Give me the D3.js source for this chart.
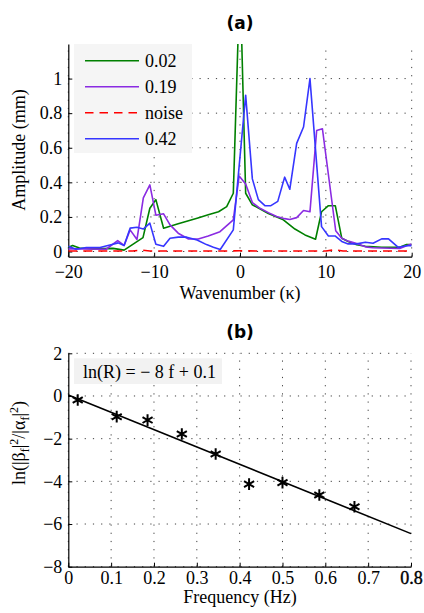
<!DOCTYPE html>
<html><head><meta charset="utf-8">
<script src="https://cdn.jsdelivr.net/npm/d3@7"></script>
<style>
body{margin:0;background:#fff}
</style>
</head><body>
<svg id="c" width="424" height="613"></svg>
<script>
// ---- Panel (a) data ----
const kGreen = [-20,-19.5,-18.7,-17.2,-14.8,-13.5,-11.3,-10.5,-9.8,-8.9,-8.15,-7.2,-6.0,-4.9,-3.7,-2.5,-1.55,-0.78,0,0.66,1.44,3.3,5.05,6.4,7.57,8.8,9.5,10.3,11.1,11.85,12.6,13.6,14.6,16.5,18.6,19.4,20];
const aGreen = [0.023,0.035,0.02,0.015,0.018,0.008,0.08,0.25,0.30,0.135,0.146,0.16,0.178,0.194,0.212,0.23,0.26,0.337,1.6,0.337,0.27,0.22,0.183,0.13,0.096,0.071,0.23,0.265,0.265,0.077,0.058,0.039,0.03,0.025,0.025,0.04,0.04];
const kPurple = [-20,-18,-15.6,-14.25,-13.5,-12.8,-12.0,-11.26,-10.5,-9.8,-8.9,-8.15,-7.2,-6.0,-4.86,-3.7,-2.33,-0.78,-0.1,0.66,1.44,2.33,3.3,4.27,5.2,5.8,6.6,7.4,8.15,8.93,9.6,11.15,11.85,12.6,13.6,14.6,15.5,16.5,18.6,19.4,20];
const aPurple = [0.015,0.015,0.013,0.063,0.035,0.125,0.07,0.31,0.385,0.21,0.218,0.154,0.106,0.072,0.072,0.09,0.115,0.183,0.437,0.39,0.283,0.25,0.225,0.202,0.19,0.185,0.196,0.237,0.23,0.70,0.71,0.12,0.077,0.06,0.046,0.027,0.022,0.02,0.017,0.033,0.044];
const kBlue = [-20,-19.1,-17.9,-16.3,-14.8,-14.2,-13.5,-12.8,-12.0,-11.26,-10.5,-9.8,-8.9,-8.15,-7.2,-6.2,-5.0,-3.9,-3.1,-2.3,-0.78,0.66,1.44,2.14,2.9,3.6,4.4,5.2,5.8,6.6,7.4,8.15,9.5,10.3,11.07,11.85,12.6,13.6,14.6,15.5,16.5,17.3,18.4,19.4,20];
const aBlue = [0.03,0.013,0.023,0.023,0.042,0.05,0.035,0.135,0.14,0.13,0.164,0.042,0.03,0.077,0.083,0.083,0.067,0.04,0.025,0.012,0.125,0.904,0.42,0.30,0.265,0.265,0.29,0.43,0.36,0.625,0.72,1.0,0.144,0.09,0.09,0.058,0.044,0.044,0.054,0.048,0.073,0.073,0.025,0.033,0.033];
const kNoise = [-20,-16,-12.5,-11.5,-10.5,-6,-2,0,2,6,10,11,12,16,20];
const aNoise = [0.003,0.003,0.003,0.008,0.003,0.003,0.003,0.004,0.003,0.003,0.003,0.01,0.003,0.003,0.003];
const seriesNames = ["0.02","0.19","noise","0.42"];
const xTicksA = [-20,-10,0,10,20];
const yTicksA = [0,0.2,0.4,0.6,0.8,1];

// ---- Panel (b) data ----
const freq = [0.022,0.113,0.185,0.265,0.344,0.422,0.5,0.586,0.668];
const lnRatio = [-0.19,-0.97,-1.13,-1.78,-2.72,-4.13,-4.06,-4.64,-5.19];
const fitF = [0,0.8];
const fitY = [0.05,-6.45];
const fitLabel = "ln(R) = \u2212 8 f + 0.1";
const xTicksB = [0,0.1,0.2,0.3,0.4,0.5,0.6,0.7,0.8];
const yTicksB = [-8,-6,-4,-2,0,2];

const SERIF = '"Liberation Serif", "Times New Roman", Times, serif';
const SANS = '"DejaVu Sans", "Liberation Sans", Arial, sans-serif';
const FS = "18px";
const svg = d3.select("#c");
const fmt = d => (d < 0 ? "\u2212" : "") + String(Math.abs(d));
const txt = (sel) => sel.style("font-family", SERIF).style("font-size", FS).attr("fill", "#000");

function frame(g, x, y, xt, yt, padX, padY) {
  const [x0,x1] = x.range(), [y0,y1] = y.range();
  g.append("g").selectAll("line").data(xt).join("line")
    .attr("x1", d=>x(d)).attr("x2", d=>x(d)).attr("y1", y0).attr("y2", y1)
    .attr("stroke","#000").attr("stroke-width",1).attr("stroke-dasharray","1.2,7").attr("opacity",0.75);
  g.append("g").selectAll("line").data(yt).join("line")
    .attr("y1", d=>y(d)).attr("y2", d=>y(d)).attr("x1", x0).attr("x2", x1)
    .attr("stroke","#000").attr("stroke-width",1).attr("stroke-dasharray","1.2,7").attr("opacity",0.75);
  const ax = g.append("g").attr("transform",`translate(0,${y0})`)
    .call(d3.axisBottom(x).tickValues(xt).tickSize(-4).tickSizeOuter(0).tickPadding(padX).tickFormat(fmt));
  const ay = g.append("g").attr("transform",`translate(${x0},0)`)
    .call(d3.axisLeft(y).tickValues(yt).tickSize(-4).tickSizeOuter(0).tickPadding(padY).tickFormat(fmt));
  [ax,ay].forEach(a=>{
    a.attr("font-family", null).attr("font-size", null);
    a.selectAll(".domain").attr("stroke","#000").attr("stroke-width",1.2);
    txt(a.selectAll("text"));
  });
  return {ax, ay};
}

// ===== Panel (a) =====
const xA = d3.scaleLinear([-20,20],[68.3,411.7]);
const yA = d3.scaleLinear([-0.03,1.2],[256.7,44]);
const gA = svg.append("g");
svg.append("defs").append("clipPath").attr("id","clipA").append("rect")
  .attr("x",68.3).attr("y",44).attr("width",343.4).attr("height",212.7);
frame(gA, xA, yA, xTicksA, yTicksA, 9, 6);

const lineA = d3.line().x(d=>xA(d[0])).y(d=>yA(d[1]));
const series = [
  {name:seriesNames[0], k:kGreen, a:aGreen, color:"#008000", dash:null},
  {name:seriesNames[1], k:kPurple, a:aPurple, color:"#8a2be2", dash:null},
  {name:seriesNames[2], k:kNoise, a:aNoise, color:"#ff0000", dash:"9,6"},
  {name:seriesNames[3], k:kBlue, a:aBlue, color:"#3636ff", dash:null}
];
const plotA = gA.append("g").attr("clip-path","url(#clipA)");
series.forEach(s=>{
  plotA.append("path").datum(d3.zip(s.k, s.a)).attr("d", lineA)
    .attr("fill","none").attr("stroke", s.color).attr("stroke-width",1.6)
    .attr("stroke-dasharray", s.dash).attr("stroke-linejoin","round");
});
// legend
const legA = gA.append("g");
legA.append("rect").attr("x",74).attr("y",44).attr("width",118).attr("height",109).attr("fill","#f5f5f5");
series.forEach((s,i)=>{
  const yy = 60.7 + i*26;
  legA.append("line").attr("x1",85).attr("x2",139).attr("y1",yy).attr("y2",yy)
    .attr("stroke",s.color).attr("stroke-width",1.6).attr("stroke-dasharray", s.dash ? "8.5,6" : null);
  txt(legA.append("text").attr("x",145).attr("y",yy).attr("dy","0.35em")).text(s.name);
});
gA.append("text").attr("x",240).attr("y",23).attr("dy","0.36em").attr("text-anchor","middle")
  .style("font-family",SANS).style("font-weight","bold").style("font-size","17px").text("(a)");
txt(gA.append("text").attr("x",240).attr("y",293).attr("dy","0.35em").attr("text-anchor","middle"))
  .text("Wavenumber (\u03ba)");
txt(gA.append("text").attr("transform","translate(19,150) rotate(-90)").attr("dy","0.35em")
  .attr("text-anchor","middle")).text("Amplitude (mm)");

// ===== Panel (b) =====
const xB = d3.scaleLinear([0,0.8],[68.3,411]);
const yB = d3.scaleLinear([-8,2],[566.7,353.3]);
const gB = svg.append("g");
const fb = frame(gB, xB, yB, xTicksB, yTicksB, 5, 6);
fb.ax.selectAll("text").filter(d=>d===0.8).attr("stroke","#000").attr("stroke-width",0.4);

gB.append("path").datum(d3.zip(fitF, fitY))
  .attr("d", d3.line().x(d=>xB(d[0])).y(d=>yB(d[1])))
  .attr("fill","none").attr("stroke","#000").attr("stroke-width",1.6);
const sym = d3.symbol().type(d3.symbolAsterisk).size(95);
gB.append("g").selectAll("path").data(d3.zip(freq, lnRatio)).join("path")
  .attr("transform", d=>`translate(${xB(d[0])},${yB(d[1])})`)
  .attr("d", sym).attr("fill","none").attr("stroke","#000").attr("stroke-width",2);

gB.append("rect").attr("x",74).attr("y",358.3).attr("width",148).attr("height",25.7).attr("fill","#f2f2f2");
txt(gB.append("text").attr("x",83).attr("y",372).attr("dy","0.35em")).text(fitLabel);

gB.append("text").attr("x",240).attr("y",332).attr("dy","0.36em").attr("text-anchor","middle")
  .style("font-family",SANS).style("font-weight","bold").style("font-size","17px").text("(b)");
txt(gB.append("text").attr("x",240).attr("y",597).attr("dy","0.35em").attr("text-anchor","middle"))
  .text("Frequency (Hz)");
const yl = txt(gB.append("text").attr("transform","translate(19,443) rotate(-90)").attr("dy","0.35em")
  .attr("text-anchor","middle"));
yl.append("tspan").text("ln(|\u03b2");
yl.append("tspan").attr("dy",4).style("font-size","12px").text("f");
yl.append("tspan").attr("dy",-4).text("|");
yl.append("tspan").attr("dy",-7).style("font-size","12px").text("2");
yl.append("tspan").attr("dy",7).text("/|\u03b1");
yl.append("tspan").attr("dy",4).style("font-size","12px").text("f");
yl.append("tspan").attr("dy",-4).text("|");
yl.append("tspan").attr("dy",-7).style("font-size","12px").text("2");
yl.append("tspan").attr("dy",7).text(")");
</script>
</body></html>
